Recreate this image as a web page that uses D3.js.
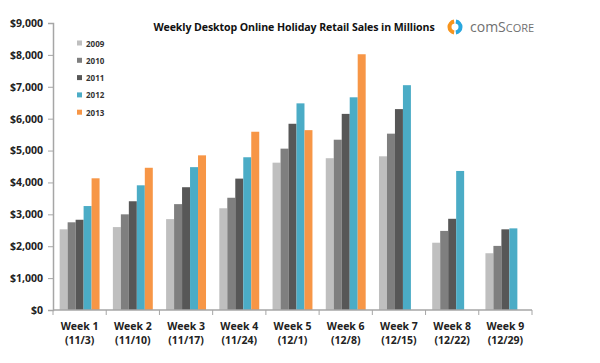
<!DOCTYPE html>
<html>
<head>
<meta charset="utf-8">
<script src="https://cdn.jsdelivr.net/npm/d3@7"></script>
<style>
  body { margin: 0; background: #fff; }
  text { font-family: "Open Sans", "Liberation Sans", sans-serif; }
</style>
</head>
<body>
<div id="chart"></div>
<script>
// data (millions of dollars)
const weeks = ["Week 1", "Week 2", "Week 3", "Week 4", "Week 5", "Week 6", "Week 7", "Week 8", "Week 9"];
const dates = ["(11/3)", "(11/10)", "(11/17)", "(11/24)", "(12/1)", "(12/8)", "(12/15)", "(12/22)", "(12/29)"];
const years = ["2009", "2010", "2011", "2012", "2013"];
const sales2009 = [2530, 2600, 2850, 3190, 4620, 4760, 4820, 2110, 1780];
const sales2010 = [2750, 3000, 3320, 3520, 5060, 5340, 5530, 2480, 2010];
const sales2011 = [2830, 3410, 3850, 4120, 5840, 6150, 6300, 2860, 2530];
const sales2012 = [3260, 3910, 4480, 4790, 6480, 6670, 7050, 4360, 2560];
const sales2013 = [4130, 4460, 4850, 5590, 5640, 8020, null, null, null];
const yTicks = [0, 1000, 2000, 3000, 4000, 5000, 6000, 7000, 8000, 9000];
const colors = ["#bfbfbf", "#7f7f7f", "#575757", "#4bacc6", "#f79646"];

const seriesByYear = [sales2009, sales2010, sales2011, sales2012, sales2013];

const width = 600, height = 363;
const margin = { top: 23, right: 68, bottom: 53, left: 53 };
const innerW = width - margin.left - margin.right;
const innerH = height - margin.top - margin.bottom;

const svg = d3.select("#chart").append("svg")
    .attr("width", width)
    .attr("height", height);

const g = svg.append("g")
    .attr("transform", `translate(${margin.left},${margin.top})`);

const x = d3.scaleBand()
    .domain(weeks)
    .range([0, innerW])
    .paddingInner(0.25)
    .paddingOuter(0.125);

const xSub = d3.scaleBand()
    .domain(years)
    .range([0, x.bandwidth()]);

const y = d3.scaleLinear()
    .domain([0, 9000])
    .range([innerH, 0]);

// y axis
const yAxis = g.append("g")
    .call(d3.axisLeft(y).tickValues(yTicks).tickSize(5).tickPadding(5)
        .tickFormat(d => "$" + d3.format(",")(d)));
yAxis.select(".domain").attr("stroke", "#a6a6a6").attr("stroke-width", 1.5);
yAxis.selectAll(".tick line").attr("stroke", "#a6a6a6");
yAxis.selectAll("text")
    .attr("fill", "#222")
    .style("font-size", "10.5px")
    .style("font-weight", "bold");

// bars
const groups = g.selectAll(".week")
    .data(weeks)
    .enter()
    .append("g")
    .attr("class", "week")
    .attr("transform", d => `translate(${x(d)},0)`);

groups.selectAll("rect")
    .data((w, i) => years.map((yr, j) => ({ yr, j, v: seriesByYear[j][i] })).filter(d => d.v != null))
    .enter()
    .append("rect")
    .attr("x", d => xSub(d.yr))
    .attr("y", d => y(d.v))
    .attr("width", xSub.bandwidth())
    .attr("height", d => innerH - y(d.v))
    .attr("fill", d => colors[d.j]);

// x axis with ticks on band boundaries
const xAxis = g.append("g")
    .attr("transform", `translate(0,${innerH})`);
xAxis.append("line")
    .attr("x1", 0).attr("x2", innerW)
    .attr("stroke", "#a6a6a6").attr("stroke-width", 1.5);
const bounds = weeks.map(w => x(w) - x.step() * x.paddingInner() / 2).concat([innerW]);
xAxis.selectAll(".xt")
    .data(bounds)
    .enter()
    .append("line")
    .attr("x1", d => d).attr("x2", d => d)
    .attr("y1", 0).attr("y2", 5)
    .attr("stroke", "#a6a6a6");

const xl = xAxis.selectAll(".xl")
    .data(weeks)
    .enter()
    .append("text")
    .attr("text-anchor", "middle")
    .attr("fill", "#222")
    .style("font-size", "10.5px")
    .style("font-weight", "bold");
xl.append("tspan")
    .attr("x", d => x(d) + x.bandwidth() / 2)
    .attr("y", 20)
    .text(d => d);
xl.append("tspan")
    .attr("x", d => x(d) + x.bandwidth() / 2)
    .attr("y", 34)
    .text((d, i) => dates[i]);

// legend
const legend = svg.append("g").attr("transform", "translate(77,44)");
years.forEach((yr, i) => {
    const row = legend.append("g").attr("transform", `translate(0,${i * 17.3})`);
    row.append("rect")
        .attr("x", 0).attr("y", -3.5)
        .attr("width", 5).attr("height", 5)
        .attr("fill", colors[i]);
    row.append("text")
        .attr("x", 9).attr("y", 2.5)
        .attr("fill", "#333")
        .style("font-size", "8px")
        .style("font-weight", "bold")
        .text(yr);
});

// title
svg.append("text")
    .attr("x", 294).attr("y", 31)
    .attr("text-anchor", "middle")
    .attr("fill", "#111")
    .style("font-size", "10.6px")
    .style("font-weight", "bold")
    .style("letter-spacing", "-0.1px")
    .text("Weekly Desktop Online Holiday Retail Sales in Millions");

// comScore logo
const logo = svg.append("g").attr("transform", "translate(455,27)");
const arc = d3.arc().innerRadius(3.5).outerRadius(7.5);
logo.append("path")
    .attr("d", arc({ startAngle: Math.PI * 0.05, endAngle: Math.PI * 0.95 }))
    .attr("fill", "#29a7df");
logo.append("path")
    .attr("d", arc({ startAngle: Math.PI * 1.05, endAngle: Math.PI * 1.95 }))
    .attr("fill", "#f7941d");
const brand = svg.append("text")
    .attr("x", 470).attr("y", 32)
    .attr("fill", "#707070")
    .style("font-size", "14px");
brand.append("tspan").text("com");
brand.append("tspan").text("S");
brand.append("tspan").style("font-size", "11px").text("CORE");
</script>
</body>
</html>
